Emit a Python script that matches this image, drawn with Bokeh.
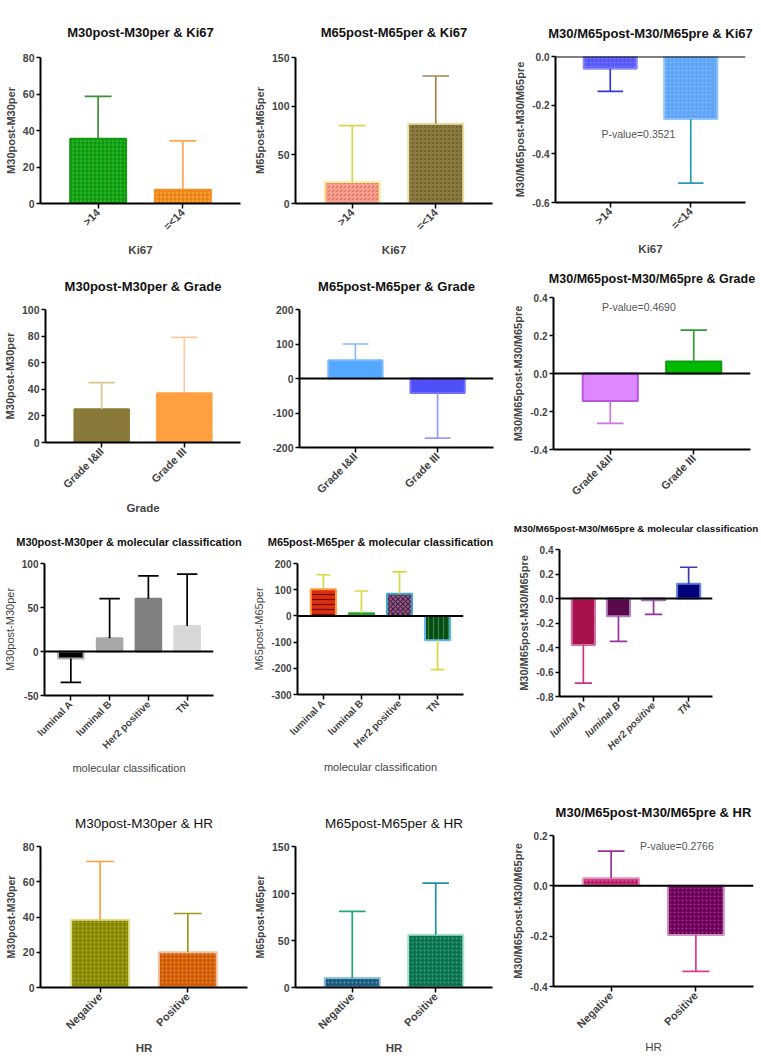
import math
from bokeh.plotting import figure
from bokeh.layouts import row, column
from bokeh.models import ColumnDataSource, FixedTicker, Span, NumeralTickFormatter, Label
from bokeh.core.properties import field
from bokeh.embed import file_html
from bokeh.resources import INLINE

FONT = "Liberation Sans"

# ---------------- data ----------------
ki67_groups = [">14", "=<14"]
grade_groups = ["Grade I&II", "Grade III"]
mol_groups = ["luminal A", "luminal B", "Her2 positive", "TN"]
hr_groups = ["Negative", "Positive"]

m30_ki67_mean = [35.5, 7.5]
m30_ki67_tip = [58.7, 34.3]
m65_ki67_mean = [22, 82]
m65_ki67_tip = [80, 131]
ratio_ki67_mean = [-0.05, -0.257]
ratio_ki67_tip = [-0.143, -0.52]

m30_grade_mean = [25, 37]
m30_grade_tip = [45, 79]
m65_grade_mean = [53, -42]
m65_grade_tip = [100, -173]
ratio_grade_mean = [-0.145, 0.063]
ratio_grade_tip = [-0.263, 0.228]

m30_mol_mean = [-8, 15, 60, 29]
m30_mol_tip = [-35, 60, 86, 88]
m65_mol_mean = [102, 10, 85, -93]
m65_mol_tip = [157, 95, 168, -205]
ratio_mol_mean = [-0.38, -0.145, -0.015, 0.12]
ratio_mol_tip = [-0.69, -0.35, -0.13, 0.255]

m30_hr_mean = [38.5, 20]
m30_hr_tip = [71.5, 42]
m65_hr_mean = [10, 56]
m65_hr_tip = [81, 111]
ratio_hr_mean = [0.03, -0.195]
ratio_hr_tip = [0.138, -0.34]

yticks_0_80 = [0, 20, 40, 60, 80]
yticks_0_150 = [0, 50, 100, 150]
yticks_r_ki67 = [-0.6, -0.4, -0.2, 0.0]
yticks_0_100 = [0, 20, 40, 60, 80, 100]
yticks_pm200 = [-200, -100, 0, 100, 200]
yticks_r_grade = [-0.4, -0.2, 0.0, 0.2, 0.4]
yticks_m50_100 = [-50, 0, 50, 100]
yticks_m300_200 = [-300, -200, -100, 0, 100, 200]
yticks_r_mol = [-0.8, -0.6, -0.4, -0.2, 0.0, 0.2, 0.4]
yticks_r_hr = [-0.4, -0.2, 0.0, 0.2]

p_ki67 = "P-value=0.3521"
p_grade = "P-value=0.4690"
p_hr = "P-value=0.2766"

# ---------------- layout (page pixel coords) ----------------
COL_X = [0, 250, 500, 760]
ROW_Y = [[0, 258, 516, 780, 1061],
         [0, 258, 516, 780, 1061],
         [0, 257, 505, 770, 1061]]


def make_panel(col, rw, frame, title, cats, mean, tip, yticks, ylabel, xlabel,
               fills, hatches, hcolors, lines, errs, title_size="13px", title_style="bold",
               title_standoff=31,
               ylab_size="11px", ylab_style="bold", xlab_size="11.5px", xlab_style="bold",
               tick_size="10.5px", xtick_size="11px", xtick_style="bold",
               cap_ratio=0.48, hscale=4.0, ptext=None, pxy=None, fmt="0"):
    fl, fr, ft, fb = frame
    x0, x1 = COL_X[col], COL_X[col + 1]
    y0, y1 = ROW_Y[col][rw], ROW_Y[col][rw + 1]
    n = len(cats)
    xs = list(range(1, n + 1))
    bw = 0.66
    c = bw / 2 * cap_ratio
    p = figure(width=x1 - x0, height=y1 - y0,
               x_range=(0.32, n + 0.68), y_range=(yticks[0], yticks[-1]),
               output_backend="svg", toolbar_location=None, title=title,
               min_border_left=fl - x0, min_border_right=max(x1 - fr, 0),
               min_border_top=ft - y0, min_border_bottom=y1 - fb)
    p.title.align = "center"
    p.title.text_font = FONT
    p.title.text_font_size = title_size
    p.title.text_font_style = title_style
    p.title.text_color = "#111111"
    p.title.standoff = title_standoff
    p.outline_line_color = None
    p.xgrid.visible = False
    p.ygrid.visible = False

    src = ColumnDataSource(dict(
        x=xs, top=mean, tip=tip, fill=fills, hatch=hatches, hcol=hcolors, line=lines, err=errs,
        c0=[x - c for x in xs], c1=[x + c for x in xs]))
    p.vbar(x="x", top="top", bottom=0, width=bw, source=src,
           fill_color="fill", line_color="line", line_width=2,
           hatch_pattern=field("hatch"), hatch_color="hcol", hatch_scale=hscale, hatch_weight=1.2)
    p.segment(x0="x", y0="top", x1="x", y1="tip", line_color="err", line_width=1.7, source=src)
    p.segment(x0="c0", y0="tip", x1="c1", y1="tip", line_color="err", line_width=1.7, source=src)

    if yticks[0] < 0:
        p.add_layout(Span(location=0, dimension="width", line_color="black", line_width=2))

    if ptext is not None:
        p.add_layout(Label(x=pxy[0], y=pxy[1], text=ptext, text_font=FONT, text_font_size="10.5px",
                           text_color="#555555", text_baseline="middle"))

    ya = p.yaxis[0]
    ya.ticker = FixedTicker(ticks=yticks)
    ya.formatter = NumeralTickFormatter(format=fmt)
    ya.axis_label = ylabel
    ya.axis_label_text_font = FONT
    ya.axis_label_text_font_size = ylab_size
    ya.axis_label_text_font_style = ylab_style
    ya.axis_label_standoff = 3
    ya.major_label_text_font = FONT
    ya.major_label_text_font_size = tick_size
    ya.major_label_text_font_style = "bold"
    ya.major_label_standoff = 2
    ya.major_tick_in = 0
    ya.major_tick_out = 4
    ya.minor_tick_line_color = None
    ya.axis_line_width = 2
    ya.major_tick_line_width = 1.5

    xa = p.xaxis[0]
    xa.ticker = FixedTicker(ticks=xs)
    xa.major_label_overrides = {x: cat for x, cat in zip(xs, cats)}
    xa.major_label_orientation = math.pi / 4
    xa.axis_label = xlabel
    xa.axis_label_text_font = FONT
    xa.axis_label_text_font_size = xlab_size
    xa.axis_label_text_font_style = xlab_style
    xa.axis_label_standoff = 4
    xa.major_label_text_font = FONT
    xa.major_label_text_font_size = xtick_size
    xa.major_label_text_font_style = xtick_style
    xa.major_label_standoff = 2
    xa.major_tick_in = 0
    xa.major_tick_out = 5
    xa.minor_tick_line_color = None
    xa.axis_line_width = 2
    xa.major_tick_line_width = 1.5
    return p


p1 = make_panel(0, 0, (40, 240, 57, 205), "M30post-M30per & Ki67", ki67_groups, m30_ki67_mean,
                m30_ki67_tip, yticks_0_80, "M30post-M30per", "Ki67",
                ["#22b822", "#ff9d2e"], ["cross", "cross"], ["#0d8d0d", "#e07c10"],
                ["#119911", "#f58a1e"], ["#3a913a", "#ffa64d"], title_standoff=36)
p2 = make_panel(1, 0, (295, 492, 57, 205), "M65post-M65per & Ki67", ki67_groups, m65_ki67_mean,
                m65_ki67_tip, yticks_0_150, "M65post-M65per", "Ki67",
                ["#f6a08e", "#8c7b3e"], ["right_diagonal_dash", "right_diagonal_dash"],
                ["#e86a5a", "#6a5a28"], ["#f5f0a0", "#e8e0a8"], ["#d6d650", "#a8804e"],
                title_standoff=36)
p3 = make_panel(2, 0, (555, 745, 56, 204), "M30/M65post-M30/M65pre & Ki67", ki67_groups,
                ratio_ki67_mean, ratio_ki67_tip, yticks_r_ki67, "M30/M65post-M30/M65pre", "Ki67",
                ["#5858f6", "#60a4f6"], ["dot", "dot"], ["#7a7aff", "#80b8ff"],
                ["#8a8aff", "#90c4ff"], ["#3434e0", "#2a9ab0"], tick_size="10px",
                ptext=p_ki67, pxy=(0.89, -0.32), fmt="0.0")
p4 = make_panel(0, 1, (39, 240, 309, 447), "M30post-M30per & Grade", grade_groups, m30_grade_mean,
                m30_grade_tip, yticks_0_100, "M30post-M30per", "Grade",
                ["#8a7a3a", "#ffa040"], [" ", " "], ["#8a7a3a", "#ffa040"],
                ["#8a7a3a", "#ffa040"], ["#d8c890", "#ffc8a0"])
p5 = make_panel(1, 1, (299, 493, 309, 447), "M65post-M65per & Grade", grade_groups, m65_grade_mean,
                m65_grade_tip, yticks_pm200, "", "",
                ["#55a8ff", "#5050f8"], [" ", " "], ["#55a8ff", "#5050f8"],
                ["#7ab8ff", "#7070ff"], ["#88bbff", "#9999ff"])
p6 = make_panel(2, 1, (553, 750, 293, 449), "M30/M65post-M30/M65pre & Grade", grade_groups,
                ratio_grade_mean, ratio_grade_tip, yticks_r_grade, "M30/M65post-M30/M65pre", "",
                ["#dd88ff", "#00bb00"], [" ", " "], ["#dd88ff", "#00bb00"],
                ["#bb55dd", "#119911"], ["#cc77dd", "#339933"], title_size="12.5px",
                title_standoff=24, tick_size="10px",
                ptext=p_grade, pxy=(0.9, 0.349), fmt="0.0")
p7 = make_panel(0, 2, (40, 213, 563, 695), "M30post-M30per & molecular classification", mol_groups,
                m30_mol_mean, m30_mol_tip, yticks_m50_100, "M30post-M30per", "molecular classification",
                ["#000000", "#a8a8a8", "#808080", "#d8d8d8"], [" "] * 4,
                ["#000000"] * 4, ["#b0b0b0", "#a8a8a8", "#808080", "#d8d8d8"], ["#000000"] * 4,
                title_size="11px", ylab_size="11px", ylab_style="normal", xlab_size="11px",
                xlab_style="normal", tick_size="10px", xtick_size="10px", cap_ratio=0.8)
p8 = make_panel(1, 2, (293, 463, 563, 694), "M65post-M65per & molecular classification", mol_groups,
                m65_mol_mean, m65_mol_tip, yticks_m300_200, "M65post-M65per", "molecular classification",
                ["#d83010", "#22aa22", "#b05070", "#0a4a14"],
                ["horizontal_line", " ", "diagonal_cross", "vertical_line"],
                ["#7a0800", "#22aa22", "#2a2a5a", "#2a8a3a"],
                ["#ff9a40", "#22aa22", "#40a8c8", "#60b8e8"], ["#d8d840"] * 4,
                title_size="11px", ylab_size="11px", ylab_style="normal", xlab_size="11px",
                xlab_style="normal", tick_size="10px", xtick_size="10px", cap_ratio=0.55, hscale=5.0)
p9 = make_panel(2, 2, (559, 712, 546, 696), "M30/M65post-M30/M65pre & molecular classification",
                mol_groups, ratio_mol_mean, ratio_mol_tip, yticks_r_mol, "M30/M65post-M30/M65pre", "",
                ["#a8104e", "#5a0a4a", "#7a3a8a", "#00007a"], [" "] * 4,
                ["#a8104e", "#5a0a4a", "#7a3a8a", "#00007a"],
                ["#d070a0", "#b080c0", "#a070b0", "#6080e0"],
                ["#cc3380", "#993399", "#993399", "#3a3aaa"],
                title_size="9.8px", title_standoff=31, ylab_size="11px", tick_size="10px",
                xtick_size="10px", xtick_style="bold italic", cap_ratio=0.75, fmt="0.0")
p10 = make_panel(0, 3, (40, 247, 846, 987), "M30post-M30per & HR", hr_groups, m30_hr_mean,
                 m30_hr_tip, yticks_0_80, "M30post-M30per", "HR",
                 ["#868600", "#d05a00"], ["dot", "dot"], ["#b0b040", "#e89050"],
                 ["#e0e090", "#f0c0a0"], ["#ffa040", "#9a9a20"],
                 title_size="13.5px", title_style="normal", ylab_size="10.5px")
p11 = make_panel(1, 3, (295, 492, 846, 987), "M65post-M65per & HR", hr_groups, m65_hr_mean,
                 m65_hr_tip, yticks_0_150, "M65post-M65per", "HR",
                 ["#1a5a7a", "#0a7050"], ["dot", "dot"], ["#5a9aba", "#40a080"],
                 ["#90c0e0", "#a8e0cc"], ["#20aa70", "#2090a8"],
                 title_size="13.5px", title_style="normal", ylab_size="10.5px")
p12 = make_panel(2, 3, (553, 753, 835, 986), "M30/M65post-M30/M65pre & HR", hr_groups, ratio_hr_mean,
                 ratio_hr_tip, yticks_r_hr, "M30/M65post-M30/M65pre", "HR",
                 ["#c02070", "#6a0058"], ["dot", "dot"], ["#e060a0", "#a03090"],
                 ["#e090b8", "#d090c0"], ["#9a309a", "#e03a8a"], tick_size="10px",
                 xlab_style="normal", ptext=p_hr, pxy=(1.34, 0.16), fmt="0.0")

cols = [[p1, p4, p7, p10], [p2, p5, p8, p11], [p3, p6, p9, p12]]
layout = row(*[column(*[column(p) for p in c]) for c in cols])
open("out.html", "w").write(file_html(layout, INLINE))
